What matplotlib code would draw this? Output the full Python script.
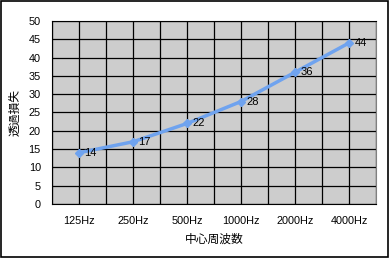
import numpy as np
import matplotlib
matplotlib.use('Agg')
import matplotlib.pyplot as plt
from matplotlib.patches import Rectangle

plt.rcParams['font.family'] = ['Liberation Sans', 'Noto Sans CJK JP', 'DejaVu Sans']

freqs = ['125Hz', '250Hz', '500Hz', '1000Hz', '2000Hz', '4000Hz']
loss = [14, 17, 22, 28, 36, 44]
yticks = list(range(0, 55, 5))

fig = plt.figure(figsize=(3.89, 2.58), dpi=100)
ax = fig.add_axes([52 / 389, 1 - 204 / 258, 324 / 389, 183 / 258])
ax.set_facecolor('#cdcdcd')

x = np.arange(len(freqs))
ax.plot(x, loss, color='#6fa3ef', lw=2.5, marker='D', ms=3.8, zorder=3)
for xi, v in zip(x, loss):
    ax.text(xi + 0.1, v, str(v), fontsize=8, va='center', ha='left', zorder=4)

ax.set_xlim(-0.5, len(freqs) - 0.5)
ax.set_ylim(0, 50)
ax.set_xticks(x)
ax.set_xticklabels(freqs)
ax.set_xticks(np.arange(-0.5, len(freqs), 1.0), minor=True)
ax.set_yticks(yticks)
ax.grid(True, which='both', color='black', lw=0.9, zorder=1)
ax.set_axisbelow(True)
ax.tick_params(which='both', length=0, labelsize=7.8)
ax.tick_params(axis='x', pad=9)
ax.tick_params(axis='y', pad=8)
for s in ['left', 'bottom', 'top']:
    ax.spines[s].set_color('black')
ax.spines['right'].set_color('#808080')

ax.set_ylabel('透過損失', fontsize=8.5, labelpad=5)
ax.set_xlabel('中心周波数', fontsize=8.5, labelpad=5)

fig.patches.append(Rectangle((0.002, 0.004), 0.995, 0.992, transform=fig.transFigure,
                             fill=False, edgecolor='black', lw=1.2))

fig.savefig('out.png', dpi=100)
